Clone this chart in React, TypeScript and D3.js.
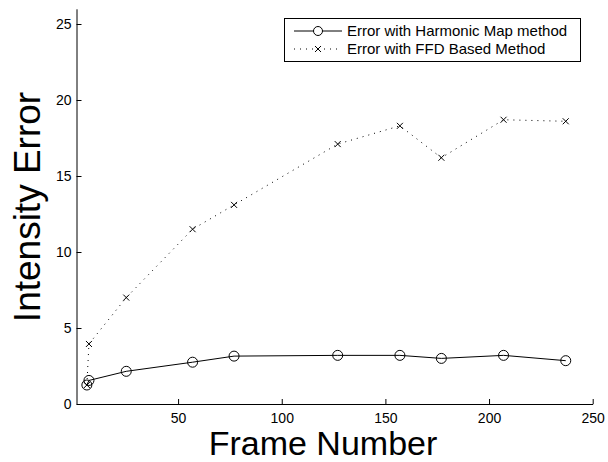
import React, { useEffect, useRef } from "react";
import * as d3 from "d3";

// values
const harmonicFrames = [6, 7, 25, 57, 77, 127, 157, 177, 207, 237];
const harmonicError = [1.25, 1.55, 2.15, 2.75, 3.15, 3.2, 3.2, 3.0, 3.2, 2.85];
const ffdFrames = [6, 7, 25, 57, 77, 127, 157, 177, 207, 237];
const ffdError = [1.25, 3.95, 7.0, 11.5, 13.1, 17.1, 18.3, 16.2, 18.7, 18.6];
const xTicks = [50, 100, 150, 200, 250];
const yTicks = [0, 5, 10, 15, 20, 25];
const legendLabels = ["Error with Harmonic Map method", "Error with FFD Based Method"];

const W = 608, H = 462;
const FONT = "'Liberation Sans', Arial, Helvetica, sans-serif";

export default function App() {
  const xAxisRef = useRef<SVGGElement>(null);
  const yAxisRef = useRef<SVGGElement>(null);

  const x = d3.scaleLinear().domain([1, 250]).range([76.5, 592.7]);
  const y = d3.scaleLinear().domain([0, 26]).range([404, 8.8]);

  const harmonic = harmonicFrames.map((f, i) => [f, harmonicError[i]] as [number, number]);
  const ffd = ffdFrames.map((f, i) => [f, ffdError[i]] as [number, number]);

  const line = d3.line<[number, number]>()
    .x(d => x(d[0]))
    .y(d => y(d[1]));

  useEffect(() => {
    const gx = d3.select(xAxisRef.current!);
    gx.selectAll("*").remove();
    gx.call(d3.axisBottom(x).tickValues(xTicks).tickSizeInner(-5).tickSizeOuter(0).tickPadding(9).tickFormat(d3.format("d")));
    gx.selectAll("text").attr("font-size", 14).attr("font-family", FONT).attr("fill", "#000");
    gx.selectAll("line,path").attr("stroke", "#000");

    const gy = d3.select(yAxisRef.current!);
    gy.selectAll("*").remove();
    gy.call(d3.axisLeft(y).tickValues(yTicks).tickSizeInner(-5).tickSizeOuter(0).tickPadding(5).tickFormat(d3.format("d")));
    gy.selectAll("text").attr("font-size", 14).attr("font-family", FONT).attr("fill", "#000");
    gy.selectAll("line,path").attr("stroke", "#000");
  }, []);

  const cross = (cx: number, cy: number, s: number, key: string | number) => (
    <path key={key} d={`M${cx - s},${cy - s}L${cx + s},${cy + s}M${cx - s},${cy + s}L${cx + s},${cy - s}`}
      stroke="#000" strokeWidth={1} fill="none" />
  );

  return (
    <svg width={W} height={H} style={{ position: "absolute", left: 0, top: 0, background: "#fff" }}>
      <rect width={W} height={H} fill="#fff" />
      <g ref={xAxisRef} transform={`translate(0,${y(0)})`} />
      <g ref={yAxisRef} transform={`translate(${x(1)},0)`} />

      {/* FFD series, dotted */}
      <path d={line(ffd) || ""} fill="none" stroke="#000" strokeWidth={1} strokeDasharray="1 5" />
      {ffd.map((d, i) => cross(x(d[0]), y(d[1]), 3, "c" + i))}

      {/* harmonic series, solid with circles */}
      <path d={line(harmonic) || ""} fill="none" stroke="#000" strokeWidth={1} />
      {harmonic.map((d, i) => (
        <circle key={"h" + i} cx={x(d[0])} cy={y(d[1])} r={5} fill="none" stroke="#000" strokeWidth={1} />
      ))}

      {/* legend */}
      <rect x={284.5} y={18.5} width={296} height={43} fill="#fff" stroke="#000" strokeWidth={1} />
      <line x1={294} x2={342} y1={31} y2={31} stroke="#000" strokeWidth={1} />
      <circle cx={318} cy={31} r={4.5} fill="#fff" stroke="#000" />
      <line x1={294} x2={342} y1={49} y2={49} stroke="#000" strokeWidth={1} strokeDasharray="1 5" />
      {cross(318, 49, 3, "lg")}
      {legendLabels.map((t, i) => (
        <text key={t} x={347} y={31 + i * 18} dy="0.35em" fontSize={15} fontFamily={FONT}>{t}</text>
      ))}

      {/* axis titles */}
      <text x={323} y={455} textAnchor="middle" fontSize={34} fontFamily={FONT}>Frame Number</text>
      <text transform="translate(40,207) rotate(-90)" textAnchor="middle" fontSize={37} fontFamily={FONT}>Intensity Error</text>
    </svg>
  );
}
